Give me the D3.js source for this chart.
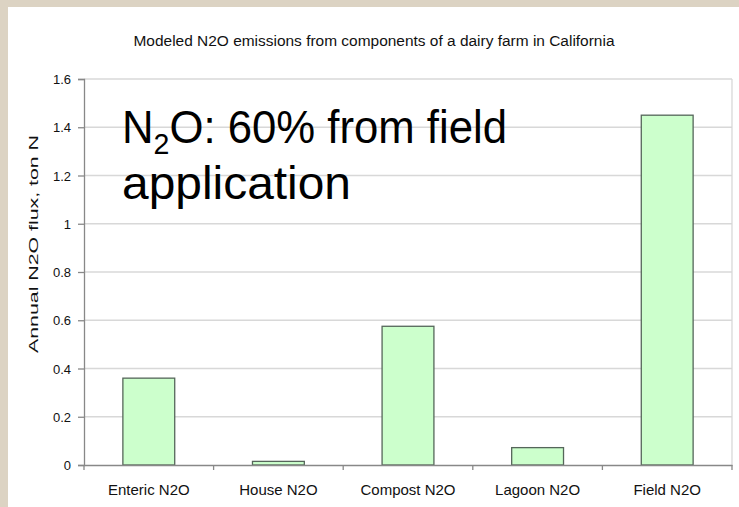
<!DOCTYPE html>
<html><head><meta charset="utf-8">
<script src="https://cdn.jsdelivr.net/npm/d3@7"></script>
<style>
html,body{margin:0;padding:0;background:#dcd3c3;}
svg{display:block;}
text{font-family:"Liberation Sans",Arial,sans-serif;}
</style></head>
<body>
<svg id="chart" width="739" height="507"></svg>
<script>
const categories = ["Enteric N2O","House N2O","Compost N2O","Lagoon N2O","Field N2O"];
const values = [0.36, 0.015, 0.575, 0.072, 1.45];
const yTicks = [0,0.2,0.4,0.6,0.8,1,1.2,1.4,1.6];
const titleText = "Modeled N2O emissions from components of a dairy farm in California";
const yTitle = "Annual N2O flux, ton N";

(function(){
const svg = d3.select("#chart");
svg.append("rect").attr("x",8).attr("y",7).attr("width",739-8).attr("height",507-7).attr("fill","#ffffff");

const pL=84, pR=732, pT=79, pB=465;
const x = d3.scaleBand().domain(categories).range([pL,pR]).paddingInner(0.6).paddingOuter(0.3);
const y = d3.scaleLinear().domain([0,1.6]).range([pB,pT]);

svg.append("g").selectAll("line").data(yTicks.filter(d=>d>0)).join("line")
  .attr("x1",pL).attr("x2",pR).attr("y1",d=>y(d)).attr("y2",d=>y(d))
  .attr("stroke","#d8d8d8").attr("stroke-width",1.3);
svg.append("line").attr("x1",pR).attr("x2",pR).attr("y1",pT).attr("y2",pB).attr("stroke","#d8d8d8").attr("stroke-width",1.3);

svg.append("g").selectAll("rect").data(values).join("rect")
  .attr("x",(d,i)=>x(categories[i]))
  .attr("y",d=>y(d))
  .attr("width",x.bandwidth())
  .attr("height",d=>pB-y(d))
  .attr("fill","#ccffcc").attr("stroke","#55665a").attr("stroke-width",1.3);

const yAxis = d3.axisLeft(y).tickValues(yTicks).tickSize(6).tickFormat(d3.format("~g"));
const gy = svg.append("g").attr("transform",`translate(${pL},0)`).call(yAxis);
gy.select(".domain").attr("stroke","#888").attr("stroke-width",1.3);
gy.selectAll(".tick line").attr("stroke","#888").attr("stroke-width",1.3);
gy.selectAll(".tick text").attr("font-size",13).attr("fill","#111").attr("x",-13).attr("dy","0.35em");

const xAxis = d3.axisBottom(x).tickSize(0).tickSizeOuter(0);
const gx = svg.append("g").attr("transform",`translate(0,${pB})`).call(xAxis);
gx.select(".domain").attr("stroke","#888").attr("stroke-width",1.3);
gx.selectAll(".tick text").attr("font-size",15).attr("fill","#111").attr("y",0).attr("dy",0)
  .attr("transform","translate(0,30)");
const bounds = d3.range(categories.length+1).map(i=>pL+i*(pR-pL)/categories.length);
svg.append("g").selectAll("line").data(bounds).join("line")
  .attr("x1",d=>d).attr("x2",d=>d).attr("y1",pB).attr("y2",pB+5)
  .attr("stroke","#888").attr("stroke-width",1.3);

svg.append("text").attr("x",374).attr("y",46).attr("text-anchor","middle")
  .attr("font-size",14).attr("fill","#111")
  .attr("textLength",481).attr("lengthAdjust","spacingAndGlyphs").text(titleText);
svg.append("text").attr("transform",`translate(38,244) rotate(-90)`)
  .attr("text-anchor","middle").attr("font-size",12).attr("fill","#111")
  .attr("textLength",218).attr("lengthAdjust","spacingAndGlyphs").text(yTitle);

const ann = svg.append("text").attr("x",122).attr("y",143).attr("font-size",46).attr("fill","#000")
  .attr("textLength",385).attr("lengthAdjust","spacingAndGlyphs");
ann.append("tspan").text("N");
ann.append("tspan").attr("font-size",30).attr("dy",11).text("2");
ann.append("tspan").attr("dy",-11).text("O: 60% from field");
svg.append("text").attr("x",122).attr("y",199).attr("font-size",46).attr("fill","#000")
  .attr("textLength",229).attr("lengthAdjust","spacingAndGlyphs").text("application");
})();
</script>
</body></html>
